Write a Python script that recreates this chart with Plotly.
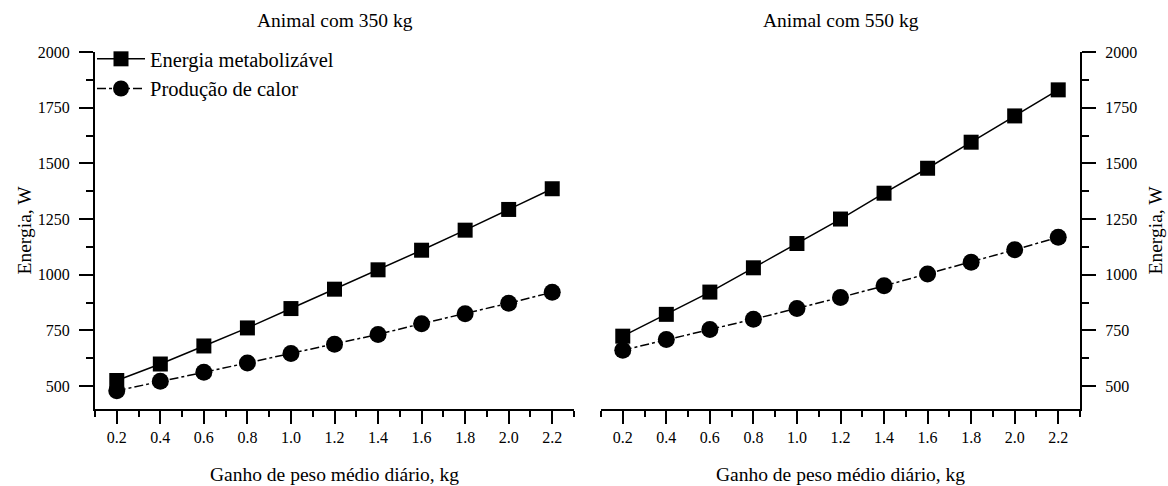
import plotly.graph_objects as go

ganho = [0.2, 0.4, 0.6, 0.8, 1.0, 1.2, 1.4, 1.6, 1.8, 2.0, 2.2]
em_350 = [525, 599, 680, 761, 848, 935, 1022, 1110, 1200, 1293, 1386]
pc_350 = [479, 522, 562, 604, 646, 688, 732, 780, 825, 872, 921]
em_550 = [724, 822, 922, 1031, 1140, 1250, 1366, 1478, 1595, 1713, 1830]
pc_550 = [661, 709, 754, 800, 848, 898, 950, 1003, 1056, 1112, 1168]
x_ticks = ["0.2", "0.4", "0.6", "0.8", "1.0", "1.2", "1.4", "1.6", "1.8", "2.0", "2.2"]
y_ticks = [500, 750, 1000, 1250, 1500, 1750, 2000]

FONT = "Liberation Serif"
W, H = 1168, 486
TOP, BOT = 52, 409
L1, R1 = 95, 574
L2, R2 = 601, 1080
PH = BOT - TOP

fig = go.Figure()

def add(x, y, name, sym, dash, size, xa, ya, show):
    fig.add_trace(go.Scatter(
        x=x, y=y, name=name, mode="lines+markers",
        line=dict(color="black", width=1.5, dash=dash),
        marker=dict(symbol=sym, size=size, color="black"),
        xaxis=xa, yaxis=ya, showlegend=show, legendgroup=name,
    ))

add(ganho, em_350, "Energia metabolizável", "square", "solid", 15, "x", "y", True)
add(ganho, pc_350, "Produção de calor", "circle", "dashdot", 17, "x", "y", True)
add(ganho, em_550, "Energia metabolizável", "square", "solid", 15, "x2", "y2", False)
add(ganho, pc_550, "Produção de calor", "circle", "dashdot", 17, "x2", "y2", False)

xcommon = dict(
    range=[0.1, 2.3], tickvals=ganho, ticktext=x_ticks,
    ticks="outside", ticklen=13, tickwidth=1.6, tickcolor="black",
    minor=dict(dtick=0.1, tick0=0.1, ticks="outside", ticklen=6, tickwidth=1.6, tickcolor="black"),
    showline=True, linecolor="black", linewidth=2, showgrid=False, zeroline=False,
    tickfont=dict(family=FONT, size=16, color="black"),
    fixedrange=True,
)
ycommon = dict(
    range=[397, 2000], tickvals=y_ticks,
    ticks="outside", ticklen=14, tickwidth=1.6, tickcolor="black",
    minor=dict(dtick=125, tick0=500, ticks="outside", ticklen=7, tickwidth=1.6, tickcolor="black"),
    showline=True, linecolor="black", linewidth=2, showgrid=False, zeroline=False,
    tickfont=dict(family=FONT, size=16, color="black"),
    ticklabelstandoff=6,
    fixedrange=True,
)

def py(pix):
    # pixel row -> paper y (relative to plot area)
    return (BOT - pix) / PH

tfont = dict(family=FONT, size=19.5, color="black")
ann = [
    dict(text="Animal com 350 kg", x=(L1 + R1) / 2 / W, y=py(20)),
    dict(text="Animal com 550 kg", x=(L2 + R2) / 2 / W, y=py(20)),
    dict(text="Ganho de peso médio diário, kg", x=(L1 + R1) / 2 / W, y=py(474)),
    dict(text="Ganho de peso médio diário, kg", x=(L2 + R2) / 2 / W, y=py(474)),
    dict(text="Energia, W", x=24 / W, y=0.5, textangle=-90),
    dict(text="Energia, W", x=1155 / W, y=0.5, textangle=-90),
]
for a in ann:
    a.update(xref="paper", yref="paper", xanchor="center", yanchor="middle",
             showarrow=False, font=tfont)

fig.update_layout(
    width=W, height=H,
    margin=dict(l=0, r=0, t=TOP, b=H - BOT),
    paper_bgcolor="white", plot_bgcolor="white",
    font=dict(family=FONT, color="black"),
    xaxis=dict(domain=[L1 / W, R1 / W], anchor="y", **xcommon),
    yaxis=dict(domain=[0, 1], anchor="x", side="left", **ycommon),
    xaxis2=dict(domain=[L2 / W, R2 / W], anchor="y2", **xcommon),
    yaxis2=dict(domain=[0, 1], anchor="x2", side="right", **ycommon),
    legend=dict(
        x=92 / W, y=py(39), xanchor="left", yanchor="top",
        font=dict(family=FONT, size=20.5, color="black"),
        bgcolor="rgba(0,0,0,0)", traceorder="grouped", tracegroupgap=0,
        itemwidth=48,
    ),
    annotations=ann,
)

fig.write_html("out.html")
